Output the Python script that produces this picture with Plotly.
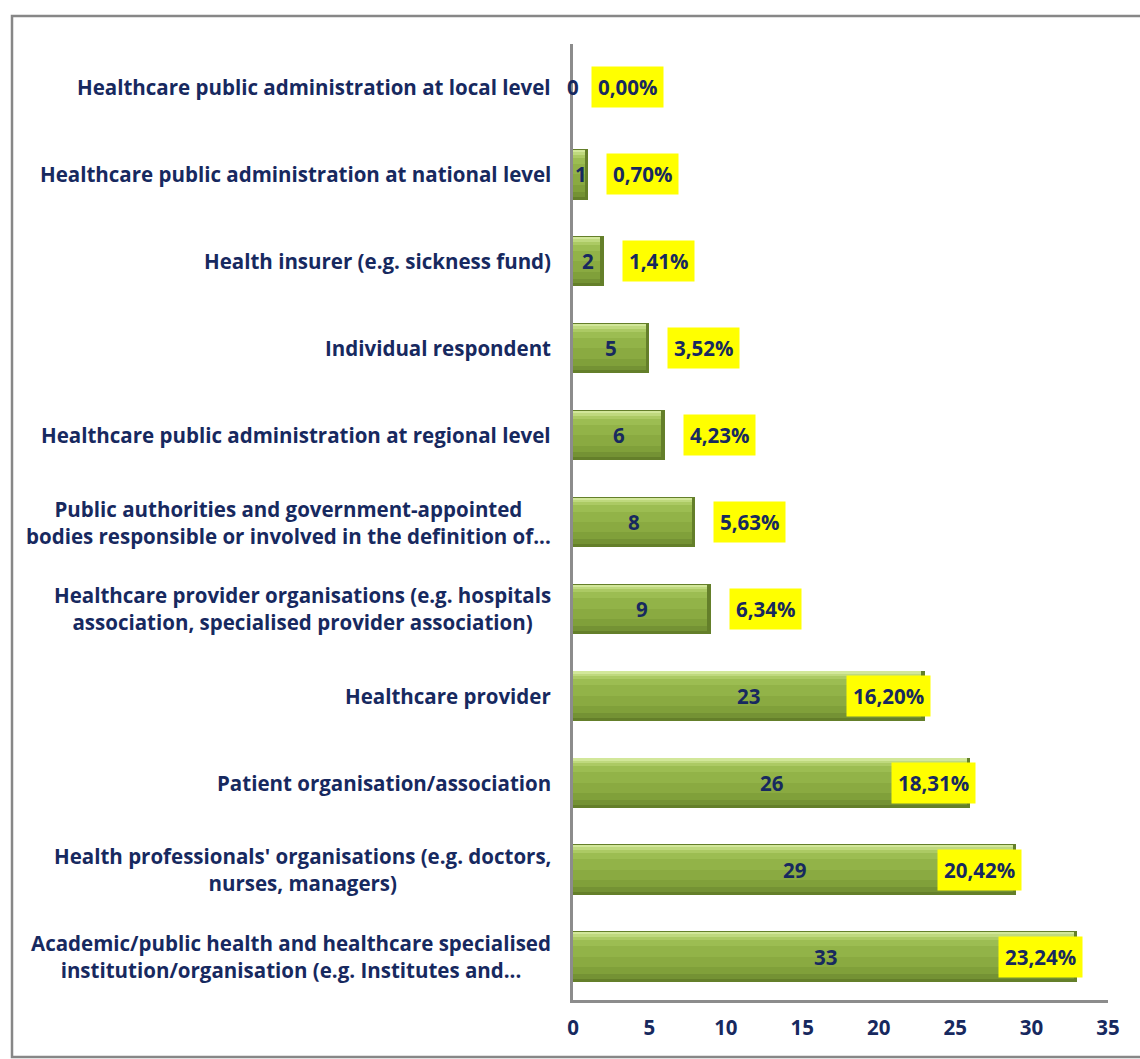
import plotly.graph_objects as go

# Respondent categories (top to bottom) with counts and shares
categories = [
    "Healthcare public administration at local level",
    "Healthcare public administration at national level",
    "Health insurer (e.g. sickness fund)",
    "Individual respondent",
    "Healthcare public administration at regional level",
    "Public authorities and government-appointed<br>bodies responsible or involved in the definition of...",
    "Healthcare provider organisations (e.g. hospitals<br>association, specialised provider association)",
    "Healthcare provider",
    "Patient organisation/association",
    "Health professionals' organisations (e.g. doctors,<br>nurses, managers)",
    "Academic/public health and healthcare specialised<br>institution/organisation (e.g. Institutes and...",
]
counts = [0, 1, 2, 5, 6, 8, 9, 23, 26, 29, 33]
shares = ["0,00%", "0,70%", "1,41%", "3,52%", "4,23%", "5,63%",
          "6,34%", "16,20%", "18,31%", "20,42%", "23,24%"]
x_ticks = [0, 5, 10, 15, 20, 25, 30, 35]

NAVY = "#17295f"
FONT = "Open Sans"
FS = 20.5
W, H = 1140, 1059
ML, MR, MT, MB = 573, 32, 44, 59

idx = list(range(len(categories)))

fig = go.Figure()

# Bevelled green bars: a dark base with lighter horizontal bands on top
BAR_W = 0.58
fig.add_trace(go.Bar(
    y=idx, x=counts, orientation="h", base=0,
    width=BAR_W, offset=-BAR_W / 2,
    marker=dict(color="#647f2a", line=dict(width=0)),
    hoverinfo="skip", showlegend=False,
))
bands = [
    (-0.275, -0.255, "#d2e79a"),
    (-0.255, -0.225, "#bfd97e"),
    (-0.225, -0.19, "#acca64"),
    (-0.19, -0.12, "#9cbd52"),
    (-0.12, 0.0, "#92b348"),
    (0.0, 0.12, "#8aaa41"),
    (0.12, 0.20, "#80a03a"),
    (0.20, 0.255, "#749234"),
]
inset = 0.22
inner = [max(v - inset, 0) for v in counts]
for lo, hi, col in bands:
    fig.add_trace(go.Bar(
        y=idx, x=inner, orientation="h", base=0,
        width=hi - lo, offset=lo,
        marker=dict(color=col, line=dict(width=0)),
        hoverinfo="skip", showlegend=False,
    ))

annotations = []
for i, (cat, v, s) in enumerate(zip(categories, counts, shares)):
    # category label, lines centred on each other
    annotations.append(dict(
        x=0, xref="paper", y=i, yref="y", xanchor="right", xshift=-20,
        text=f"<b>{cat}</b>", showarrow=False, align="center",
        font=dict(family=FONT, size=FS, color=NAVY),
    ))
    # count in the middle of the bar
    annotations.append(dict(
        x=v / 2, y=i, xref="x", yref="y", xanchor="center",
        text=f"<b>{v}</b>", showarrow=False,
        font=dict(family=FONT, size=FS, color=NAVY),
    ))
    # share in a yellow box beside (or at the end of) the bar
    if v < 20:
        anchor, shift = "left", 18
    else:
        anchor, shift = "right", 6
    annotations.append(dict(
        x=v, y=i, xref="x", yref="y", xanchor=anchor, xshift=shift,
        text=f"<b>{s}</b>", showarrow=False, bgcolor="#ffff00",
        borderpad=6, font=dict(family=FONT, size=FS, color=NAVY),
    ))

pw = W - ML - MR
ph = H - MT - MB


def px_to_paper_x(px):
    return (px - ML) / pw


def px_to_paper_y(py):
    return (H - MB - py) / ph


shapes = [
    # outer chart frame
    dict(type="rect", xref="paper", yref="paper",
         x0=px_to_paper_x(12), x1=px_to_paper_x(1150),
         y0=px_to_paper_y(1057), y1=px_to_paper_y(16),
         line=dict(color="#878787", width=2.5), fillcolor="rgba(0,0,0,0)",
         layer="below"),
]

fig.update_layout(
    width=W, height=H,
    margin=dict(l=ML, r=MR, t=MT, b=MB, pad=0),
    paper_bgcolor="white", plot_bgcolor="white",
    barmode="overlay", bargap=0,
    annotations=annotations, shapes=shapes,
    font=dict(family=FONT, color=NAVY),
    xaxis=dict(
        range=[0, 35], tickvals=x_ticks,
        ticktext=[f"<b>{t}</b>" for t in x_ticks],
        tickfont=dict(family=FONT, size=FS, color=NAVY),
        showgrid=False, zeroline=False,
        showline=True, linecolor="#8c8c8c", linewidth=2.5,
        ticks="", ticklabelstandoff=8,
    ),
    yaxis=dict(
        range=[len(categories) - 0.5, -0.5],
        showticklabels=False, showgrid=False, zeroline=False,
        showline=True, linecolor="#8c8c8c", linewidth=2.5, ticks="",
    ),
)

fig.write_html("out.html")
